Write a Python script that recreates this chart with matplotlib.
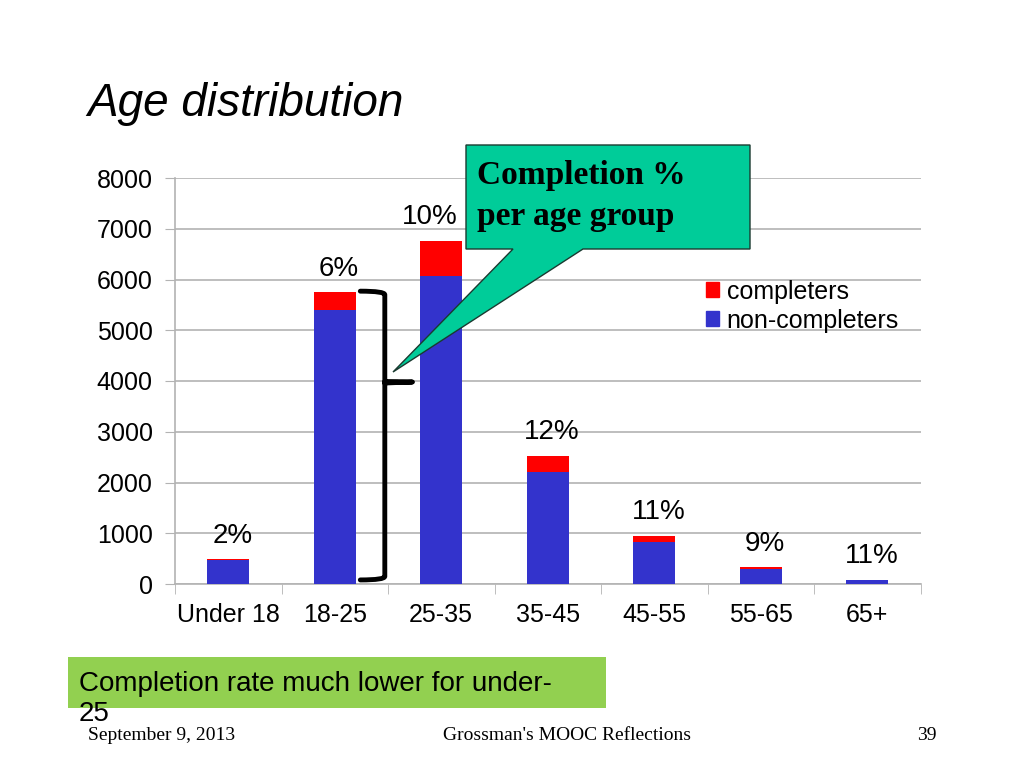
import matplotlib.pyplot as plt
from matplotlib.patches import Polygon, Rectangle, Patch
from matplotlib.path import Path
from matplotlib.patches import PathPatch

# data
age_groups = ['Under 18', '18-25', '25-35', '35-45', '45-55', '55-65', '65+']
non_completers = [480, 5400, 6075, 2210, 835, 300, 77]
completers = [10, 350, 685, 310, 110, 30, 8]
pct_labels = ['2%', '6%', '10%', '12%', '11%', '9%', '11%']

blue = '#3333cc'
red = '#ff0000'

plt.rcParams['font.family'] = ['Liberation Sans', 'DejaVu Sans']

fig = plt.figure(figsize=(10.24, 7.68), dpi=100)
W, H = 1024, 768

ax = fig.add_axes([175 / W, 1 - 584 / H, 745.5 / W, (584 - 178) / H])
x = list(range(len(age_groups)))
ax.bar(x, non_completers, width=0.39, color=blue, label='non-completers', zorder=3)
ax.bar(x, completers, width=0.39, bottom=non_completers, color=red,
       label='completers', zorder=3)

for i, lab in enumerate(pct_labels):
    total = non_completers[i] + completers[i]
    dx = -8 if i == 2 else 3   # keep the 10% clear of the callout
    ax.annotate(lab, (i, total), xytext=(dx, 17), textcoords='offset points',
                ha='center', va='center', fontsize=20)

ax.set_xlim(-0.5, len(age_groups) - 0.5)
ax.set_ylim(0, 8000)
ax.set_yticks(range(0, 8001, 1000))
ax.set_xticks(x)
ax.set_xticklabels(age_groups)
ax.set_xticks([i + 0.5 for i in range(-1, len(age_groups))], minor=True)
ax.tick_params(axis='x', which='major', length=0, labelsize=18, pad=14)
ax.tick_params(axis='x', which='minor', length=7, color='#b3b3b3')
ax.tick_params(axis='y', length=7, color='#b3b3b3', labelsize=18, pad=9)
ax.grid(axis='y', color='#b3b3b3', linewidth=1.2, zorder=0)
for s in ['top', 'right']:
    ax.spines[s].set_visible(False)
for s in ['left', 'bottom']:
    ax.spines[s].set_color('#b3b3b3')
    ax.spines[s].set_linewidth(1.2)

handles = [Patch(color=red, label='completers'), Patch(color=blue, label='non-completers')]
fig.legend(handles=handles, loc='upper left', bbox_to_anchor=(683 / W, 1 - 257 / H),
           frameon=False, fontsize=18, handlelength=0.55, handleheight=0.55,
           handletextpad=0.3, labelspacing=0.2)

# curly brace next to the 18-25 bar
x0, x1, x2 = 1.24, 1.47, 1.73
brace = Path(
    [(x0, 5770), (x1, 5770), (x1, 5700), (x1, 5500),
     (x1, 4300), (x1, 4100), (x1, 3980),
     (x1, 4000), (x2 - 0.05, 3980), (x2, 3980),
     (x2 - 0.05, 3980), (x1, 3960), (x1, 3980),
     (x1, 3860), (x1, 3700), (x1, 3500),
     (x1, 400), (x1, 200), (x1, 150),
     (x1, 80), (x0, 80)],
    [Path.MOVETO, Path.CURVE3, Path.CURVE3, Path.LINETO,
     Path.LINETO, Path.CURVE3, Path.CURVE3,
     Path.CURVE3, Path.CURVE3, Path.LINETO,
     Path.CURVE3, Path.CURVE3, Path.LINETO,
     Path.CURVE3, Path.CURVE3, Path.LINETO,
     Path.LINETO, Path.CURVE3, Path.CURVE3,
     Path.CURVE3, Path.CURVE3])
ax.add_patch(PathPatch(brace, fill=False, lw=3.5, color='black', zorder=5,
                       clip_on=False, capstyle='round', joinstyle='round'))

# callout box with tail
def fx(px):
    return px / W

def fy(py):
    return 1 - py / H

callout = Polygon([(fx(466), fy(145)), (fx(750), fy(145)), (fx(750), fy(249)),
                   (fx(583), fy(249)), (fx(393), fy(372)), (fx(513), fy(249)),
                   (fx(466), fy(249))],
                  closed=True, transform=fig.transFigure, facecolor='#00cc99',
                  edgecolor='#1a3a30', lw=1, zorder=10)
fig.add_artist(callout)
fig.text(fx(477), fy(196), 'Completion %\nper age group', ha='left', va='center',
         fontsize=24, fontweight='bold', family=['Liberation Serif', 'DejaVu Serif'],
         linespacing=1.38, zorder=11)

fig.text(fx(87), fy(104), 'Age distribution', fontsize=33, style='italic',
         ha='left', va='center')

# bottom note
fig.add_artist(Rectangle((fx(68), fy(708)), fx(606) - fx(68), fy(657) - fy(708),
                         transform=fig.transFigure, facecolor='#92d050', edgecolor='none'))
fig.text(fx(79), fy(671), 'Completion rate much lower for under-\n25', fontsize=20,
         ha='left', va='top', linespacing=1.2)

serif = ['Liberation Serif', 'DejaVu Serif']
fig.text(fx(88), fy(736), 'September 9, 2013', fontsize=14, family=serif, va='center')
fig.text(fx(567), fy(736), "Grossman's MOOC Reflections", fontsize=14, family=serif,
         va='center', ha='center')
fig.text(fx(937), fy(736), '39', fontsize=14, family=serif, va='center', ha='right')

fig.savefig('out.png', dpi=100)
